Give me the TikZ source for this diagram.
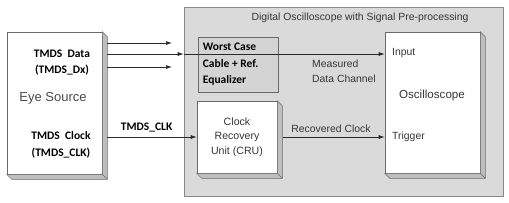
\documentclass[tikz,border=0pt]{standalone}
\usepackage{fontspec}
\setmainfont{Liberation Sans}
\newfontfamily\carlito{Carlito}
\usepackage{tikz}
\usetikzlibrary{arrows.meta, positioning, calc}
\definecolor{kbg}{HTML}{DADADA}
\definecolor{kwc}{HTML}{D4D4D4}
\definecolor{kside}{HTML}{BEBEBE}
\definecolor{kedge}{HTML}{6A6A6A}
\definecolor{kline}{HTML}{2A2A2A}
\definecolor{ktext}{HTML}{363636}

\begin{document}
\begin{tikzpicture}[x=1pt, y=-1pt,
  lbl/.style={font=\fontsize{10.4}{14.5}\selectfont, text=ktext, inner sep=0pt},
  blbl/.style={font=\carlito\bfseries\fontsize{11.5}{16.5}\selectfont, text=black, inner sep=0pt},
  frontbox/.style={draw=kedge, fill=white, line width=0.6pt, inner sep=0pt},
  sig/.style={draw=kline, line width=0.7pt, -{Latex[length=6pt,width=4pt]}}]

  \useasboundingbox (0,0) rectangle (509,202);

  %% Grey frame of the oscilloscope
  \node[draw=kedge!80, fill=kbg, line width=0.6pt, minimum width=319pt, minimum height=189pt] (dso) at (343.5,101.5) {};
  \node[lbl, font=\fontsize{10.4}{12}\selectfont] (title) at (360,18)
    {Digital Oscilloscope with Signal Pre-processing};

  %% Equalizer block
  \node[draw=kedge, fill=kwc, line width=0.6pt, minimum width=80pt, minimum height=55pt] (wc) at (238,64.5) {};
  \node[blbl, align=left, anchor=west] (wclbl) at ([xshift=5pt]wc.west)
    {Worst Case\\Cable + Ref.\\Equalizer};

  %% Raised boxes
  \node[frontbox, minimum width=95pt, minimum height=142pt] (es) at (54.5,103) {};
  \node[frontbox, minimum width=80pt, minimum height=72pt, align=center,
        font=\fontsize{10.6}{14.5}\selectfont, text=ktext] (cru) at (237,137)
    {Clock\\Recovery\\Unit (CRU)};
  \node[frontbox, minimum width=95pt, minimum height=141pt] (osc) at (432.5,102.5) {};
  \foreach \b in {es,cru,osc}{
    \filldraw[kside, draw=kedge, line width=0.5pt] (\b.north east) -- ++(5,5)
      -- ([shift={(5,5)}]\b.south east) -- ([shift={(5,5)}]\b.south west)
      -- (\b.south west) -- (\b.south east) -- cycle;
    \draw[kedge, line width=0.5pt] (\b.south east) -- ++(5,5);
  }

  %% Eye source texts
  \node[blbl, align=center] (dx) at (62,62.5) {TMDS~~Data\\(TMDS\_Dx)};
  \node[lbl, font=\fontsize{13}{15}\selectfont, text=kedge!70!black] (eyes) at (53,98) {Eye Source};
  \node[blbl, align=center] (ck) at (61,145) {TMDS~~Clock\\(TMDS\_CLK)};

  %% Oscilloscope texts
  \node[lbl, anchor=west] (inp) at (392,53) {Input};
  \node[lbl, font=\fontsize{11.6}{13}\selectfont] (scope) at (432,95) {Oscilloscope};
  \node[lbl, anchor=west] (trig) at (392,137) {Trigger};
  \node[lbl, align=left, anchor=west] (meas) at (312,71.5) {Measured\\Data Channel};

  %% Data lanes
  \coordinate (esr) at ([xshift=5pt]es.east);
  \coordinate (d1) at (172,43);
  \coordinate (d2) at (dso.west |- 0,54);
  \coordinate (d3) at (172,67);
  \draw[sig] (esr |- d1) -- (d1);
  \draw[sig] (esr |- d2) -- (d2);
  \draw[sig] (d2) -- (osc.west |- d2);
  \draw[sig] (esr |- d3) -- (d3);

  %% Clock path
  \draw[sig] (esr |- cru.west) -- node[blbl, pos=0.44, above=5pt] (clk) {TMDS\_CLK} (cru.west);
  \coordinate (crur) at ([xshift=6pt]cru.east);
  \draw[sig] (crur) -- node[lbl, pos=0.47, above=4pt] (rec) {Recovered Clock} (osc.west |- crur);

\end{tikzpicture}
\end{document}
